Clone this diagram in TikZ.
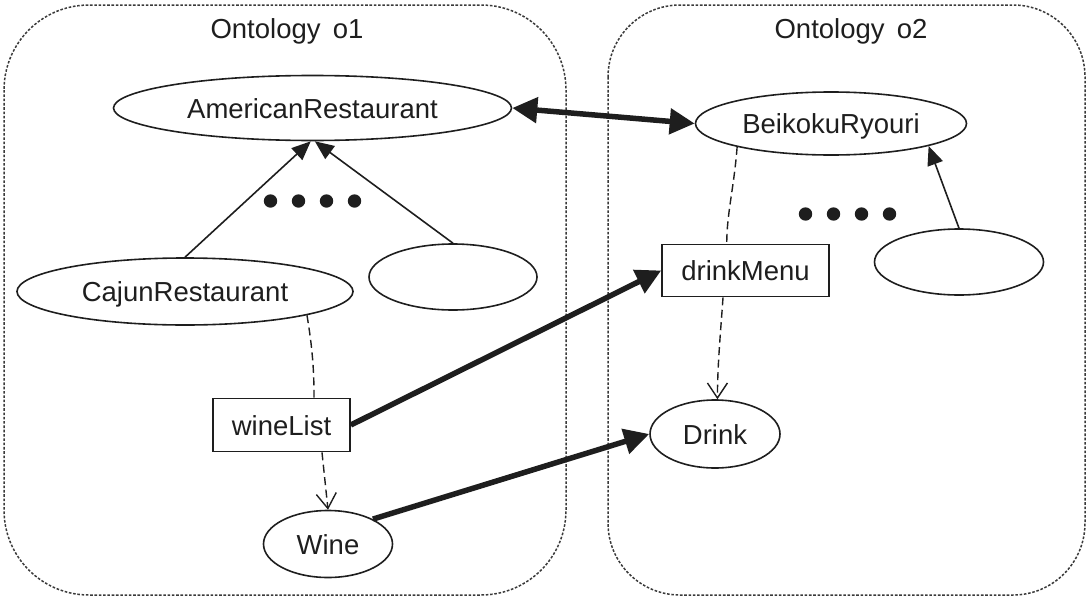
\documentclass[tikz,border=0pt]{standalone}
\usepackage{fontspec}
\setmainfont{Liberation Sans}
\usetikzlibrary{arrows.meta,shapes.geometric}
\definecolor{ink}{HTML}{1E1E1E}
\definecolor{framegray}{HTML}{3A3A3A}
\begin{document}
\begin{tikzpicture}[x=1pt,y=-1pt,
  every node/.style={text=ink, font=\fontsize{27.5}{33}\selectfont},
  ontoframe/.style={draw=framegray, line width=1.5pt, dash pattern=on 2.6pt off 1.7pt},
  cls/.style={ellipse, draw=ink, line width=1.6pt, inner sep=0pt, text height=20pt, text depth=0pt},
  prop/.style={rectangle, draw=ink, line width=1.6pt, inner sep=0pt, text height=20pt, text depth=0pt},
  dotmark/.style={circle, fill=ink, inner sep=0pt, minimum size=13.4pt},
  isa/.style={draw=ink, line width=1.6pt, -{Triangle[length=19pt,width=16pt]}},
  bigtip/.tip={Triangle[length=25pt,width=25pt]},
  mapping/.style={draw=ink, line width=5.5pt, -bigtip},
  domlink/.style={draw=ink, line width=1.4pt, dash pattern=on 8pt off 4.5pt},
  rangelink/.style={domlink, -{Straight Barb[length=15pt,width=20pt]}}
]
\useasboundingbox (0,0) rectangle (1086,597);

% the two ontologies
\draw[ontoframe, rounded corners=85pt] (4,5) rectangle (566,595);
\draw[ontoframe, rounded corners=72pt] (608,5) rectangle (1085,595);
\node (title1) at (287,31) {Ontology\,~o1};
\node (title2) at (851,31) {Ontology\,~o2};

% classes and properties of o1
\node[cls, minimum width=398pt, minimum height=65pt] (american) at (312.5,108) {AmericanRestaurant};
\node[cls, minimum width=336pt, minimum height=67pt] (cajun) at (185,291.5) {CajunRestaurant};
\node[cls, minimum width=168pt, minimum height=66pt] (sub1) at (453,277) {};
\node[prop, minimum width=137pt, minimum height=53pt] (winelist) at (281.5,425) {wineList};
\node[cls, minimum width=129pt, minimum height=67pt] (wine) at (328,544) {Wine};
\node[dotmark] (l1) at (270.5,201) {};
\node[dotmark] (l2) at (298.5,201) {};
\node[dotmark] (l3) at (326.5,201) {};
\node[dotmark] (l4) at (354.5,201) {};

% classes and properties of o2
\node[cls, minimum width=271pt, minimum height=63pt] (beikoku) at (831,123.5) {BeikokuRyouri};
\node[cls, minimum width=169pt, minimum height=66pt] (sub2) at (959,262) {};
\node[prop, minimum width=167pt, minimum height=52pt] (drinkmenu) at (745.5,270.5) {drinkMenu};
\node[cls, minimum width=130pt, minimum height=68pt] (drink) at (715,434) {Drink};
\node[dotmark] (r1) at (805.5,214) {};
\node[dotmark] (r2) at (833.5,214) {};
\node[dotmark] (r3) at (861.5,214) {};
\node[dotmark] (r4) at (889.5,214) {};

% subclass links
\draw[isa] (cajun.north) -- (american.-93);
\draw[isa] (sub1.north) -- (american.-86);
\draw[isa] (sub2.north) -- (beikoku.-13);

% domain and range of the properties
\draw[domlink] (cajun.-11.7) .. controls +(5,30) and +(0,-30) .. (winelist.40.5);
\draw[rangelink] (winelist.-34) -- (wine.north);
\draw[domlink] (beikoku.-166.9) .. controls +(-3,40) and +(0,-30) .. (drinkmenu.125);
\draw[rangelink] (drinkmenu.-130) .. controls +(-2,30) and +(0,-35) .. (drink.86);

% correspondences between the ontologies
\draw[mapping, bigtip-bigtip] (american.east) -- (beikoku.west);
\draw[mapping] (winelist.east) -- (drinkmenu.west);
\draw[mapping] (wine.29) -- (drink.west);
\end{tikzpicture}
\end{document}
